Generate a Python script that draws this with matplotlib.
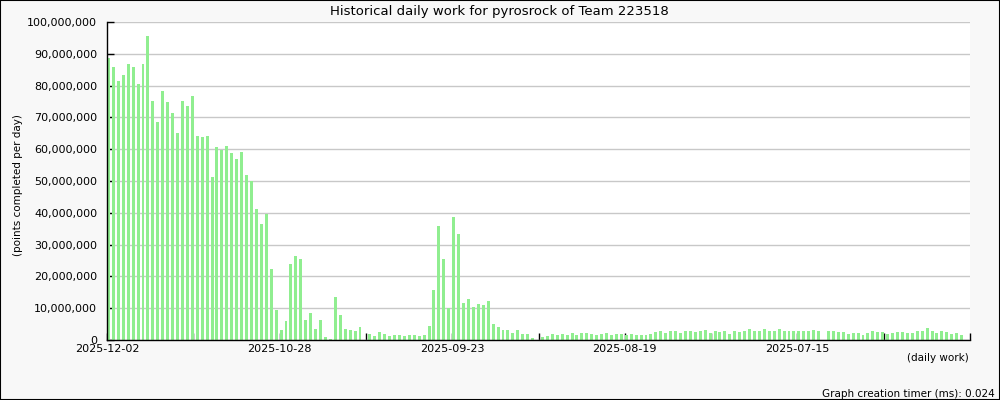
import numpy as np
import matplotlib
matplotlib.use('Agg')
import matplotlib.pyplot as plt
from matplotlib.ticker import FuncFormatter
from matplotlib.patches import Rectangle

# Daily points (millions), newest day first (2025-12-02 going back)
daily_millions = [
    88.7, 85.9, 81.5, 83.4, 86.8, 85.9, 80.5, 86.8, 95.7, 75.2,
    68.5, 78.3, 74.8, 71.4, 65.1, 75.2, 73.6, 76.7, 64.0, 63.8,
    64.0, 51.2, 60.6, 59.7, 60.9, 58.7, 56.8, 59.1, 51.8, 49.9,
    41.1, 36.6, 39.5, 22.4, 9.5, 3.1, 6.0, 23.9, 26.4, 25.4,
    6.3, 8.5, 3.5, 6.3, 0.9, 0.3, 13.5, 7.9, 3.5, 3.1,
    2.8, 4.1, 0.0, 1.9, 1.3, 2.5, 1.9, 1.3, 1.6, 1.6,
    1.3, 1.6, 1.6, 1.3, 1.6, 4.4, 15.7, 36.0, 25.5, 10.1,
    38.8, 33.2, 11.7, 12.9, 10.4, 11.4, 11.1, 12.3, 5.1, 4.1,
    3.1, 3.1, 2.2, 3.1, 1.9, 1.9, 0.6, 0.0, 0.9, 1.3,
    1.9, 1.6, 1.9, 1.6, 2.2, 1.6, 2.2, 2.2, 1.9, 1.6,
    1.9, 2.2, 1.6, 1.9, 1.9, 1.6, 1.9, 1.6, 1.6, 1.6,
    1.9, 2.5, 2.8, 2.2, 2.8, 2.8, 2.2, 2.8, 2.8, 2.5,
    2.8, 3.1, 2.2, 2.8, 2.5, 2.8, 1.9, 2.8, 2.5, 2.8,
    3.5, 2.8, 2.8, 3.5, 2.8, 2.8, 3.5, 2.8, 2.8, 2.8,
    2.8, 2.8, 2.8, 3.1, 2.8, 0.0, 2.8, 2.8, 2.5, 2.5,
    1.9, 2.2, 2.2, 1.6, 2.2, 2.8, 2.5, 2.5, 1.9, 2.2,
    2.5, 2.5, 2.2, 2.2, 2.8, 2.8, 3.8, 2.8, 2.2, 2.8,
    2.5, 1.9, 2.2, 1.6,
]
date_labels = ['2025-12-02', '2025-10-28', '2025-09-23', '2025-08-19', '2025-07-15']

values = np.array(daily_millions) * 1e6
days = np.arange(len(values))

fig = plt.figure(figsize=(10, 4), dpi=100, facecolor='#f8f8f8')
fig.patches.append(Rectangle((0, 0), 1, 1, transform=fig.transFigure,
                             fill=False, edgecolor='black', linewidth=1.5))

ax = fig.add_axes([0.107, 0.15, 0.863, 0.795])
ax.set_facecolor('white')
ax.bar(days, values, width=0.6, align='edge', color='#90ee90', zorder=2)

ax.set_xlim(0, 175)
ax.set_ylim(0, 100e6)
ax.set_yticks(np.arange(0, 100e6 + 1, 10e6))
ax.yaxis.set_major_formatter(FuncFormatter(lambda v, p: f'{int(v):,}'))
ax.grid(axis='y', color='#c8c8c8', linewidth=1, zorder=0)

ticks = np.arange(0, 176, 17.5)
ax.set_xticks(ticks)
ax.set_xticklabels([date_labels[i // 2] if i % 2 == 0 and i // 2 < len(date_labels) else ''
                    for i in range(len(ticks))])

for s in ['top', 'right']:
    ax.spines[s].set_visible(False)
for s in ['left', 'bottom']:
    ax.spines[s].set_color('black')
    ax.spines[s].set_linewidth(1)

ax.tick_params(axis='y', direction='in', length=5, width=1, pad=7, labelsize=8)
ax.tick_params(axis='x', direction='in', length=5, width=1, pad=3, labelsize=8)

fig.text(0.499, 0.972, 'Historical daily work for pyrosrock of Team 223518',
         ha='center', va='center', fontsize=9.5)
fig.text(0.018, 0.537, '(points completed per day)', rotation=90,
         ha='center', va='center', fontsize=7.5)
fig.text(0.969, 0.105, '(daily work)', ha='right', va='center', fontsize=7.5)
fig.text(0.995, 0.015, 'Graph creation timer (ms): 0.024', ha='right', va='center', fontsize=7.5)

fig.savefig('out.png', dpi=100, facecolor=fig.get_facecolor())
